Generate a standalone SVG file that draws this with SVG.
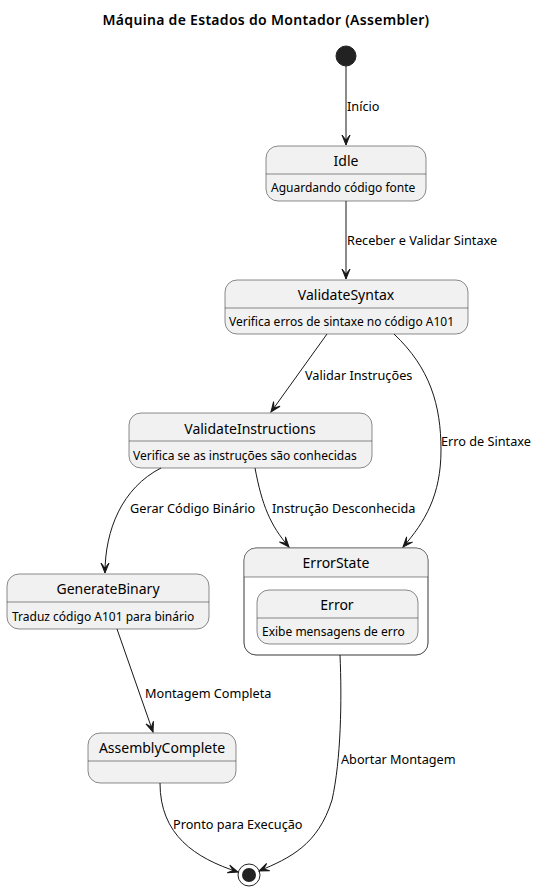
<svg xmlns="http://www.w3.org/2000/svg" width="539" height="889" viewBox="0 0 539 889">
<defs>
<marker id="arr" markerUnits="userSpaceOnUse" markerWidth="12" markerHeight="10" refX="11" refY="5" orient="auto">
<path d="M1,1 L11,5 L1,9 L6,5 Z" fill="#181818" stroke="#181818" stroke-width="1"/>
</marker>
<style>
text{font-family:"Noto Sans","Open Sans","Liberation Sans",sans-serif;fill:#000}
.st{fill:#F1F1F1;stroke:#181818;stroke-width:0.5}
.dv{stroke:#181818;stroke-width:0.5}
.nm{font-size:14px;text-anchor:middle}
.ds{font-size:12px}
.lb{font-size:12.7px}
.ed{fill:none;stroke:#181818;stroke-width:1;marker-end:url(#arr)}
</style>
</defs>
<rect width="539" height="889" fill="#fff"/>
<text x="266" y="25" style="font-size:14px;font-weight:600;letter-spacing:0.3px;text-anchor:middle">Máquina de Estados do Montador (Assembler)</text>

<g id="start"><circle cx="346" cy="56" r="10" fill="#222" stroke="#222"/></g>

<g id="Idle">
<rect class="st" x="266" y="146" width="160" height="55" rx="12"/>
<line class="dv" x1="266" y1="174" x2="426" y2="174"/>
<text class="nm" x="346" y="166">Idle</text>
<text class="ds" x="271" y="192">Aguardando código fonte</text>
</g>

<g id="ValidateSyntax">
<rect class="st" x="225" y="280" width="243" height="54" rx="12"/>
<line class="dv" x1="225" y1="308" x2="468" y2="308"/>
<text class="nm" x="346" y="300">ValidateSyntax</text>
<text class="ds" x="229" y="326">Verifica erros de sintaxe no código A101</text>
</g>

<g id="ValidateInstructions">
<rect class="st" x="129" y="413" width="243" height="55" rx="12"/>
<line class="dv" x1="129" y1="441" x2="372" y2="441"/>
<text class="nm" x="250" y="434">ValidateInstructions</text>
<text class="ds" x="133" y="460">Verifica se as instruções são conhecidas</text>
</g>

<g id="GenerateBinary">
<rect class="st" x="7" y="574" width="202" height="55" rx="12"/>
<line class="dv" x1="7" y1="602" x2="209" y2="602"/>
<text class="nm" x="108" y="594">GenerateBinary</text>
<text class="ds" x="12" y="621">Traduz código A101 para binário</text>
</g>

<g id="ErrorState">
<rect x="244" y="548" width="184" height="107" rx="12" fill="#fff" stroke="#181818" stroke-width="0.5"/>
<path d="M244,577 L244,560 A12,12 0 0 1 256,548 L416,548 A12,12 0 0 1 428,560 L428,577 Z" fill="#F1F1F1" stroke="none"/>
<rect x="244" y="548" width="184" height="107" rx="12" fill="none" stroke="#181818" stroke-width="0.5"/>
<line class="dv" x1="244" y1="577" x2="428" y2="577"/>
<text class="nm" x="336" y="568">ErrorState</text>
<g id="Error">
<rect class="st" x="257" y="590" width="161" height="54" rx="12"/>
<line class="dv" x1="257" y1="618" x2="418" y2="618"/>
<text class="nm" x="337" y="610">Error</text>
<text class="ds" x="262" y="636">Exibe mensagens de erro</text>
</g>
</g>

<g id="AssemblyComplete">
<rect class="st" x="88" y="733" width="148" height="50" rx="12"/>
<line class="dv" x1="88" y1="761" x2="236" y2="761"/>
<text class="nm" x="162" y="753">AssemblyComplete</text>
</g>

<g id="end">
<circle cx="249" cy="875" r="11" fill="none" stroke="#222" stroke-width="1"/>
<circle cx="249" cy="875" r="7" fill="#222"/>
</g>

<g id="connectors">
<path class="ed" d="M346,66 L346,145"/>
<text class="lb" x="347" y="111">Início</text>
<path class="ed" d="M346,201 L346,279"/>
<text class="lb" x="347" y="245">Receber e Validar Sintaxe</text>
<path class="ed" d="M327,334 L271,412"/>
<text class="lb" x="305" y="380">Validar Instruções</text>
<path class="ed" d="M394,334 C430,368 441,405 441,450 C441,495 425,522 403,547"/>
<text class="lb" x="441" y="446">Erro de Sintaxe</text>
<path class="ed" d="M161,468 C122,488 105,530 105,573"/>
<text class="lb" x="130" y="513">Gerar Código Binário</text>
<path class="ed" d="M255,468 C262,505 270,525 289,547"/>
<text class="lb" x="272" y="513">Instrução Desconhecida</text>
<path class="ed" d="M117,629 L153,732"/>
<text class="lb" x="145" y="698">Montagem Completa</text>
<path class="ed" d="M340,655 C342,700 341,760 332,800 C318,845 290,858 259,871"/>
<text class="lb" x="341" y="764">Abortar Montagem</text>
<path class="ed" d="M160,783 C160,835 195,858 238,872"/>
<text class="lb" x="173" y="829">Pronto para Execução</text>
</g>
</svg>
